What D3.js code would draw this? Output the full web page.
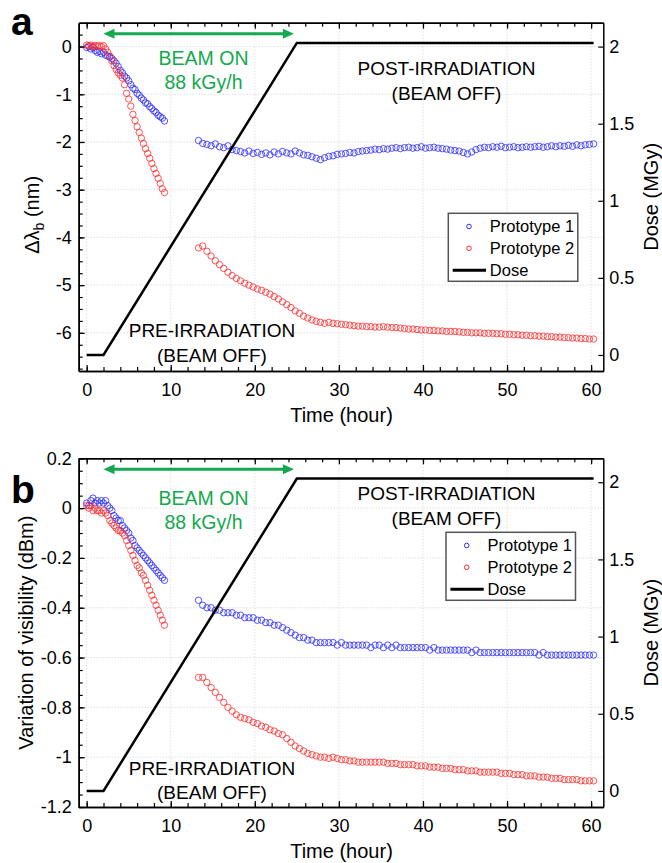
<!DOCTYPE html>
<html><head><meta charset="utf-8">
<script src="https://cdn.jsdelivr.net/npm/d3@7"></script>
<style>body{margin:0;background:#fff} svg{display:block} text{font-family:"Liberation Sans",Arial,sans-serif}</style>
</head><body><svg id="c" width="662" height="863"></svg>
<script>
// ---------- DATA ----------
const seg1Hours = [0,0.25,0.5,0.75,1,1.25,1.5,1.75,2,2.25,2.5,2.75,3,3.25,3.5,3.75,4,4.25,4.5,4.75,5,5.25,5.5,5.75,6,6.25,6.5,6.75,7,7.25,7.5,7.75,8,8.25,8.5,8.75,9,9.25];
const seg2Hours = [13.3,13.8,14.3,14.8,15.3,15.8,16.3,16.8,17.3,17.8,
 18.3,18.8,19.3,19.8,20.3,20.8,21.3,21.8,22.3,22.8,
 23.3,23.8,24.3,24.8,25.3,25.8,26.3,26.8,27.3,27.8,
 28.3,28.8,29.3,29.8,30.3,30.8,31.3,31.8,32.3,32.8,
 33.3,33.8,34.3,34.8,35.3,35.8,36.3,36.8,37.3,37.8,
 38.3,38.8,39.3,39.8,40.3,40.8,41.3,41.8,42.3,42.8,
 43.3,43.8,44.3,44.8,45.3,45.8,46.3,46.8,47.3,47.8,
 48.3,48.8,49.3,49.8,50.3,50.8,51.3,51.8,52.3,52.8,
 53.3,53.8,54.3,54.8,55.3,55.8,56.3,56.8,57.3,57.8,
 58.3,58.8,59.3,59.8,60.3];

// Panel a: wavelength shift (nm)
const proto1A_beam = [-0.02,0.0,-0.05,-0.02,-0.08,-0.12,-0.10,-0.15,-0.12,-0.18,-0.20,-0.22,-0.25,-0.30,-0.35,-0.42,-0.50,-0.55,-0.62,-0.66,-0.72,-0.80,-0.87,-0.90,-0.98,-1.02,-1.08,-1.12,-1.18,-1.20,-1.26,-1.30,-1.35,-1.38,-1.44,-1.47,-1.50,-1.56];
const proto2A_beam = [0.03,0.02,0.03,0.0,0.02,0.01,0.02,0.0,0.02,-0.05,-0.12,-0.20,-0.30,-0.40,-0.48,-0.55,-0.60,-0.66,-0.80,-0.98,-1.10,-1.25,-1.42,-1.55,-1.68,-1.80,-1.92,-2.03,-2.14,-2.24,-2.34,-2.45,-2.56,-2.66,-2.76,-2.87,-2.98,-3.06];
const proto1A_post = [-1.97,-2.03,-2.05,-2.08,-2.04,-2.10,-2.12,-2.08,-2.16,-2.18,
 -2.20,-2.23,-2.19,-2.24,-2.22,-2.26,-2.23,-2.27,-2.21,-2.25,
 -2.20,-2.23,-2.25,-2.19,-2.23,-2.27,-2.28,-2.31,-2.34,-2.37,
 -2.33,-2.30,-2.29,-2.26,-2.25,-2.24,-2.22,-2.23,-2.20,-2.19,
 -2.18,-2.17,-2.15,-2.16,-2.14,-2.15,-2.13,-2.12,-2.14,-2.12,
 -2.11,-2.13,-2.12,-2.10,-2.13,-2.12,-2.11,-2.13,-2.14,-2.15,
 -2.17,-2.18,-2.19,-2.22,-2.25,-2.21,-2.16,-2.13,-2.11,-2.12,
 -2.10,-2.11,-2.09,-2.12,-2.11,-2.10,-2.12,-2.11,-2.10,-2.11,
 -2.10,-2.09,-2.11,-2.10,-2.08,-2.10,-2.08,-2.09,-2.07,-2.09,
 -2.06,-2.08,-2.06,-2.05,-2.04];
const proto2A_post = [-4.22,-4.18,-4.29,-4.39,-4.49,-4.57,-4.65,-4.73,-4.80,-4.86,
 -4.91,-4.96,-5.00,-5.04,-5.08,-5.11,-5.15,-5.19,-5.24,-5.29,
 -5.35,-5.41,-5.47,-5.54,-5.59,-5.65,-5.69,-5.73,-5.76,-5.78,
 -5.80,-5.78,-5.80,-5.81,-5.82,-5.83,-5.84,-5.85,-5.86,-5.86,
 -5.87,-5.87,-5.88,-5.88,-5.87,-5.88,-5.89,-5.89,-5.90,-5.91,
 -5.92,-5.92,-5.93,-5.94,-5.94,-5.95,-5.95,-5.96,-5.96,-5.97,
 -5.97,-5.97,-5.98,-5.99,-5.99,-6.00,-6.00,-6.00,-6.01,-6.01,
 -6.01,-6.02,-6.02,-6.03,-6.03,-6.04,-6.04,-6.05,-6.05,-6.06,
 -6.06,-6.07,-6.07,-6.08,-6.08,-6.09,-6.09,-6.10,-6.10,-6.11,
 -6.11,-6.12,-6.12,-6.13,-6.13];

// Panel b: variation of visibility (dBm)
const proto1B_beam = [0.02,0.01,0.03,0.04,0.02,0.03,0.02,0.03,0.02,0.03,0.01,0.0,-0.01,-0.03,-0.04,-0.05,-0.05,-0.07,-0.08,-0.09,-0.10,-0.12,-0.13,-0.15,-0.16,-0.17,-0.18,-0.19,-0.20,-0.21,-0.22,-0.23,-0.24,-0.25,-0.26,-0.27,-0.28,-0.29];
const proto2B_beam = [0.01,0.0,0.01,-0.01,0.0,-0.01,-0.01,-0.02,-0.01,-0.02,-0.03,-0.05,-0.06,-0.07,-0.08,-0.09,-0.09,-0.10,-0.11,-0.13,-0.15,-0.17,-0.19,-0.21,-0.23,-0.24,-0.26,-0.27,-0.29,-0.31,-0.33,-0.35,-0.37,-0.39,-0.41,-0.43,-0.45,-0.47];
const proto1B_post = [-0.37,-0.39,-0.40,-0.40,-0.41,-0.41,-0.42,-0.42,-0.42,-0.43,
 -0.43,-0.44,-0.44,-0.44,-0.45,-0.45,-0.46,-0.46,-0.47,-0.47,
 -0.48,-0.49,-0.50,-0.51,-0.52,-0.52,-0.53,-0.53,-0.54,-0.54,
 -0.54,-0.54,-0.54,-0.55,-0.54,-0.55,-0.55,-0.55,-0.55,-0.55,
 -0.55,-0.56,-0.55,-0.55,-0.56,-0.55,-0.56,-0.55,-0.56,-0.56,
 -0.56,-0.56,-0.56,-0.56,-0.56,-0.57,-0.56,-0.57,-0.57,-0.57,
 -0.57,-0.57,-0.57,-0.57,-0.57,-0.58,-0.57,-0.58,-0.58,-0.58,
 -0.58,-0.58,-0.58,-0.58,-0.58,-0.58,-0.58,-0.58,-0.58,-0.58,
 -0.58,-0.59,-0.58,-0.59,-0.59,-0.59,-0.59,-0.59,-0.59,-0.59,
 -0.59,-0.59,-0.59,-0.59,-0.59];
const proto2B_post = [-0.68,-0.68,-0.70,-0.72,-0.74,-0.76,-0.78,-0.80,-0.815,-0.83,
 -0.84,-0.845,-0.85,-0.86,-0.865,-0.875,-0.88,-0.89,-0.895,-0.905,
 -0.91,-0.925,-0.94,-0.955,-0.965,-0.975,-0.985,-0.99,-0.995,-1.0,
 -1.0,-1.005,-1.0,-1.005,-1.01,-1.01,-1.015,-1.015,-1.02,-1.02,
 -1.02,-1.02,-1.02,-1.02,-1.02,-1.025,-1.025,-1.025,-1.03,-1.03,
 -1.03,-1.03,-1.035,-1.035,-1.035,-1.04,-1.04,-1.04,-1.045,-1.045,
 -1.045,-1.05,-1.05,-1.05,-1.055,-1.055,-1.055,-1.06,-1.06,-1.06,
 -1.06,-1.06,-1.065,-1.065,-1.065,-1.07,-1.07,-1.07,-1.075,-1.075,
 -1.075,-1.08,-1.08,-1.08,-1.085,-1.085,-1.085,-1.09,-1.09,-1.09,
 -1.09,-1.095,-1.095,-1.095,-1.095];

// Dose (MGy)
const doseHours = [0, 2, 25, 60.3];
const doseMGy   = [0, 0, 2.024, 2.024];
const beamOnHours = [2, 25];

// Ticks
const xMajorTicks = [0,10,20,30,40,50,60];
const xMinorTicks = [0,2,4,6,8,10,12,14,16,18,20,22,24,26,28,30,32,34,36,38,40,42,44,46,48,50,52,54,56,58,60];
const yMajorA = [-6,-5,-4,-3,-2,-1,0];
const yMinorA = [-6.75,-6.5,-6.25,-6,-5.75,-5.5,-5.25,-5,-4.75,-4.5,-4.25,-4,-3.75,-3.5,-3.25,-3,-2.75,-2.5,-2.25,-2,-1.75,-1.5,-1.25,-1,-0.75,-0.5,-0.25,0,0.25];
const yMajorB = [-1.2,-1,-0.8,-0.6,-0.4,-0.2,0,0.2];
const yMinorB = [-1.2,-1.15,-1.1,-1.05,-1,-0.95,-0.9,-0.85,-0.8,-0.75,-0.7,-0.65,-0.6,-0.55,-0.5,-0.45,-0.4,-0.35,-0.3,-0.25,-0.2,-0.15,-0.1,-0.05,0,0.05,0.1,0.15,0.2];
const doseTicks = [0,0.5,1,1.5,2];
const legendLabels = ["Prototype 1","Prototype 2","Dose"];

// ---------- DRAW ----------
const svg = d3.select("#c");
const L = 78.7, R = 603.3;
const x = d3.scaleLinear().domain([-0.95, 61.45]).range([L, R]);
const BLUE = "#2b2bff", RED = "#ff2b2b", GREEN = "#14a850";
const FONT = '"Liberation Sans", Arial, sans-serif';

function styleAxis(sel, fs){
  sel.attr("font-family", FONT).attr("font-size", fs);
  sel.select(".domain").attr("stroke", "#000").attr("stroke-width", 1.5);
  sel.selectAll(".tick line").attr("stroke", "#000").attr("stroke-width", 1.2);
  sel.selectAll(".tick text").attr("fill", "#000");
}

function panel(cfg){
  const top = cfg.top, bottom = cfg.bottom;
  const g = svg.append("g");
  const y = d3.scaleLinear().domain(cfg.yDomain).range([bottom, top]);
  const yD = d3.scaleLinear().domain([-0.104, 2.155]).range([bottom, top]);

  // grid
  g.append("g").selectAll("line").data(xMajorTicks).join("line")
    .attr("x1", d => x(d)).attr("x2", d => x(d)).attr("y1", top).attr("y2", bottom)
    .attr("stroke", "#c8c8c8").attr("stroke-width", 0.8).attr("stroke-dasharray", "1,2");
  g.append("g").selectAll("line").data(cfg.yMajor).join("line")
    .attr("x1", L).attr("x2", R).attr("y1", d => y(d)).attr("y2", d => y(d))
    .attr("stroke", "#c8c8c8").attr("stroke-width", 0.8).attr("stroke-dasharray", "1,2");

  // points
  function pts(hours, vals, color){
    g.append("g").selectAll("circle").data(vals).join("circle")
      .attr("cx", (d,i) => x(hours[i])).attr("cy", d => y(d)).attr("r", 3.2)
      .attr("fill", "none").attr("stroke", color).attr("stroke-width", 1).attr("stroke-opacity", 0.8);
  }
  pts(seg1Hours, cfg.p1Beam, BLUE);
  pts(seg2Hours, cfg.p1Post, BLUE);
  pts(seg1Hours, cfg.p2Beam, RED);
  pts(seg2Hours, cfg.p2Post, RED);

  // dose line
  const line = d3.line().x((d,i) => x(doseHours[i])).y(d => yD(d));
  g.append("path").datum(doseMGy).attr("d", line)
    .attr("fill", "none").attr("stroke", "#000").attr("stroke-width", 2.5);

  // axes
  const ab = g.append("g").attr("transform", `translate(0,${bottom})`)
    .call(d3.axisBottom(x).tickValues(xMajorTicks).tickSizeInner(-6).tickSizeOuter(0).tickPadding(12).tickFormat(d => String(d)));
  styleAxis(ab, 18);
  const abm = g.append("g").attr("transform", `translate(0,${bottom})`)
    .call(d3.axisBottom(x).tickValues(xMinorTicks).tickSizeInner(-4).tickSizeOuter(0).tickFormat(() => ""));
  styleAxis(abm, 18);
  const at = g.append("g").attr("transform", `translate(0,${top})`)
    .call(d3.axisTop(x).tickValues(xMajorTicks).tickSizeInner(-6).tickSizeOuter(0).tickFormat(() => ""));
  styleAxis(at, 18);
  const atm = g.append("g").attr("transform", `translate(0,${top})`)
    .call(d3.axisTop(x).tickValues(xMinorTicks).tickSizeInner(-4).tickSizeOuter(0).tickFormat(() => ""));
  styleAxis(atm, 18);
  const al = g.append("g").attr("transform", `translate(${L},0)`)
    .call(d3.axisLeft(y).tickValues(cfg.yMajor).tickSizeInner(-6).tickSizeOuter(0).tickPadding(7).tickFormat(d => String(d)));
  styleAxis(al, 18);
  const alm = g.append("g").attr("transform", `translate(${L},0)`)
    .call(d3.axisLeft(y).tickValues(cfg.yMinor).tickSizeInner(-4).tickSizeOuter(0).tickFormat(() => ""));
  styleAxis(alm, 18);
  const ar = g.append("g").attr("transform", `translate(${R},0)`)
    .call(d3.axisRight(yD).tickValues(doseTicks).tickSizeInner(-5).tickSizeOuter(0).tickPadding(6).tickFormat(d => String(d)));
  styleAxis(ar, 18);

  // axis titles
  g.append("text").attr("x", (L + R) / 2 + 0.5).attr("y", bottom + 51)
    .attr("text-anchor", "middle").attr("font-size", 20).text("Time (hour)");
  const mid = (top + bottom) / 2;
  if (cfg.delta) {
    const t = g.append("text").attr("transform", `translate(38.5,${mid + 18}) rotate(-90)`)
      .attr("text-anchor", "middle").attr("font-size", 20);
    t.append("tspan").text("Δλ");
    t.append("tspan").attr("font-size", 14).attr("dy", 5).text("b");
    t.append("tspan").attr("dy", -5).text(" (nm)");
  } else {
    g.append("text").attr("transform", `translate(33,${mid}) rotate(-90)`)
      .attr("text-anchor", "middle").attr("font-size", 20).text(cfg.yTitle);
  }
  g.append("text").attr("transform", `translate(657.5,${mid}) rotate(-90)`)
    .attr("text-anchor", "middle").attr("font-size", 20).text("Dose (MGy)");

  // beam-on arrow
  const ay = top + 11;
  const x1 = x(beamOnHours[0]), x2 = x(beamOnHours[1]) - 3;
  g.append("line").attr("x1", x1 + 8).attr("x2", x2 - 8).attr("y1", ay).attr("y2", ay)
    .attr("stroke", GREEN).attr("stroke-width", 3);
  g.append("path").attr("d", `M${x1},${ay} L${x1 + 11},${ay - 5} L${x1 + 11},${ay + 5} Z`).attr("fill", GREEN);
  g.append("path").attr("d", `M${x2},${ay} L${x2 - 11},${ay - 5} L${x2 - 11},${ay + 5} Z`).attr("fill", GREEN);

  // annotations
  const bx = x(13.9);
  g.append("text").attr("x", bx).attr("y", top + cfg.beamY[0]).attr("text-anchor", "middle")
    .attr("font-size", 19.5).attr("fill", GREEN).text("BEAM ON");
  g.append("text").attr("x", bx).attr("y", top + cfg.beamY[1]).attr("text-anchor", "middle")
    .attr("font-size", 19.5).attr("fill", GREEN).text("88 kGy/h");
  const px = x(42.8);
  g.append("text").attr("x", px).attr("y", top + cfg.postY[0]).attr("text-anchor", "middle")
    .attr("font-size", 19).text("POST-IRRADIATION");
  g.append("text").attr("x", px).attr("y", top + cfg.postY[1]).attr("text-anchor", "middle")
    .attr("font-size", 19).text("(BEAM OFF)");
  const rx = x(14.9);
  g.append("text").attr("x", rx).attr("y", bottom - cfg.preY[0]).attr("text-anchor", "middle")
    .attr("font-size", 19).text("PRE-IRRADIATION");
  g.append("text").attr("x", rx).attr("y", bottom - cfg.preY[1]).attr("text-anchor", "middle")
    .attr("font-size", 19).text("(BEAM OFF)");

  // panel letter
  g.append("text").attr("x", 11).attr("y", cfg.letterY).attr("font-size", 39)
    .attr("font-weight", "bold").text(cfg.letter);

  // legend
  const lg = g.append("g").attr("transform", `translate(${cfg.legX},${cfg.legY})`);
  lg.append("rect").attr("width", 129.5).attr("height", 68).attr("fill", "#fff")
    .attr("stroke", "#555").attr("stroke-width", 1.5);
  const rows = [13.2, 35, 57];
  lg.append("circle").attr("cx", 20.7).attr("cy", rows[0]).attr("r", 2.3).attr("fill", "none").attr("stroke", BLUE);
  lg.append("circle").attr("cx", 20.7).attr("cy", rows[1]).attr("r", 2.3).attr("fill", "none").attr("stroke", RED);
  lg.append("line").attr("x1", 4.4).attr("x2", 37.7).attr("y1", rows[2]).attr("y2", rows[2])
    .attr("stroke", "#000").attr("stroke-width", 3);
  lg.selectAll("text.lt").data(legendLabels).join("text").attr("class", "lt")
    .attr("x", 41.5).attr("y", (d,i) => rows[i] + 6).attr("font-size", 16.5).text(d => d);
}

svg.selectAll("*").remove();
svg.attr("font-family", FONT);

panel({
  letter: "a", letterY: 35, top: 22.7, bottom: 371, yDomain: [-6.8, 0.5],
  yMajor: yMajorA, yMinor: yMinorA, delta: true,
  p1Beam: proto1A_beam, p1Post: proto1A_post, p2Beam: proto2A_beam, p2Post: proto2A_post,
  beamY: [42.5, 66], postY: [52.5, 77.5], preY: [34.1, 9.1],
  legX: 448.3, legY: 213.3
});
panel({
  letter: "b", letterY: 503, top: 458.3, bottom: 807, yDomain: [-1.2, 0.2],
  yMajor: yMajorB, yMinor: yMinorB, delta: false, yTitle: "Variation of visibility (dBm)",
  p1Beam: proto1B_beam, p1Post: proto1B_post, p2Beam: proto2B_beam, p2Post: proto2B_post,
  beamY: [46.9, 70.3], postY: [41.9, 66.9], preY: [31.8, 8.4],
  legX: 446, legY: 532.3
});
</script></body></html>
